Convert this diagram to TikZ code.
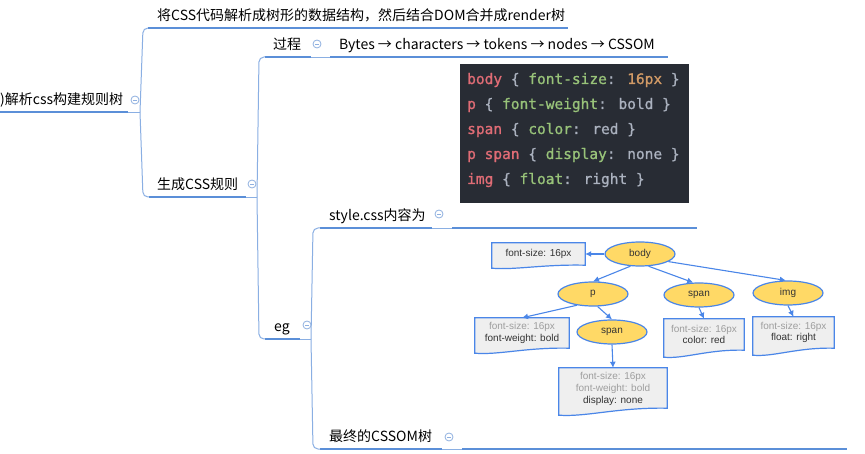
\documentclass[tikz,border=0pt]{standalone}
\usepackage{fontspec}
\setmainfont{Noto Sans CJK SC}
\newfontfamily\codefont[FakeBold=1]{DejaVu Sans Mono}
\newfontfamily\treefont{Liberation Sans}
\usetikzlibrary{shapes.geometric,arrows.meta,calc}
\definecolor{ul}{HTML}{5B8FD8}
\definecolor{thinc}{HTML}{8AAFE3}
\definecolor{iconc}{HTML}{8FB0E0}
\definecolor{codebg}{HTML}{282C34}
\definecolor{csel}{HTML}{E06C75}
\definecolor{cpun}{HTML}{ABB2BF}
\definecolor{cprop}{HTML}{98C379}
\definecolor{cnum}{HTML}{D19A66}
\definecolor{tblue}{HTML}{4A86E8}
\definecolor{tyel}{HTML}{FFD966}
\definecolor{tbox}{HTML}{EFEFEF}
\definecolor{cg}{HTML}{9E9E9E}
\definecolor{cd}{HTML}{333333}
\newcommand\docbox[2]{%
  \path[draw=tblue,line width=1.2pt,fill=tbox]
    (#1.north west) -- (#1.north east) -- (#1.south east)
    .. controls ($(#1.south east)!0.45!(#1.south west)+(0,-1)$)
           and ($(#1.south east)!0.75!(#1.south west)+(0,#2+2)$) ..
    ($(#1.south west)+(0,#2)$) -- cycle;}
\begin{document}
\begin{tikzpicture}[x=1pt,y=-1pt,
  topic/.style={anchor=base west,inner sep=0pt,font=\fontsize{14}{16}\selectfont,text=black},
  ulthick/.style={draw=ul,line width=2.6pt},
  ulthin/.style={draw=thinc,line width=0.9pt},
  conn/.style={draw=thinc,line width=1pt,rounded corners=5pt},
  icon/.style={circle,draw=iconc,line width=0.8pt,fill=white,minimum size=8pt,inner sep=0pt,
    path picture={\draw[iconc,line width=0.8pt] ([xshift=2pt]path picture bounding box.west) -- ([xshift=-2pt]path picture bounding box.east);}},
  codeline/.style={anchor=base west,inner sep=0pt,font=\codefont\fontsize{14.5}{17}\selectfont},
  tel/.style={ellipse,draw=tblue,line width=1.2pt,fill=tyel,minimum width=70pt,minimum height=24pt,inner sep=0pt,font=\treefont\fontsize{10}{12}\selectfont,text=cd},
  boxn/.style={rectangle,inner sep=0pt,align=center,font=\treefont\fontsize{10}{11.8}\selectfont},
  arr/.style={draw=tblue,line width=1.1pt,-{Latex[length=6pt,width=6pt]}}
]
\useasboundingbox[fill=white] (0,0) rectangle (865,454);

% ---------- mind map topics ----------
\node[topic] (root) at (0,105) {)解析css构建规则树};
\node[topic] (t1) at (157,20.5) {将CSS代码解析成树形的数据结构，然后结合DOM合并成render树};
\node[topic] (gen) at (157,189.5) {生成CSS规则};
\node[topic] (proc) at (273,49.5) {过程};
\node[topic] (bytes) at (339,49.5) {Bytes → characters → tokens → nodes → CSSOM};
\node[topic] (eg) at (274,331.5) {eg};
\node[topic] (style) at (329,220.5) {style.css内容为};
\node[topic] (final) at (329,441.5) {最终的CSSOM树};

% ---------- coordinates ----------
\coordinate (rootS) at (0,112);   \coordinate (rootM) at (128,112); \coordinate (rootE) at (140,112);
\coordinate (t1S) at (148,28);    \coordinate (t1E) at (568,28);
\coordinate (genS) at (149,197);  \coordinate (genM) at (246,197);  \coordinate (genE) at (257,197);
\coordinate (procS) at (265,57);  \coordinate (procM) at (311,57);  \coordinate (procE) at (330,57);
\coordinate (bytesE) at (668,57);
\coordinate (egS) at (265,339);   \coordinate (egM) at (300,339);   \coordinate (egE) at (311,339);
\coordinate (styleS) at (320,228); \coordinate (styleM) at (432,228); \coordinate (styleE) at (452,228);
\coordinate (codeE) at (697,228);
\coordinate (finalS) at (320,449); \coordinate (finalM) at (442,449); \coordinate (finalE) at (462,449);
\coordinate (treeE) at (847,449);

% ---------- underlines ----------
\draw[ulthick] (rootS) -- (rootM);   \draw[ulthin] (rootM) -- (rootE);
\draw[ulthick] (t1S) -- (t1E);
\draw[ulthick] (genS) -- (genM);     \draw[ulthin] (genM) -- (genE);
\draw[ulthick] (procS) -- (procM);   \draw[ulthin] (procM) -- (procE);
\draw[ulthick] (procE) -- (bytesE);
\draw[ulthick] (egS) -- (egM);       \draw[ulthin] (egM) -- (egE);
\draw[ulthick] (styleS) -- (styleM); \draw[ulthin] (styleM) -- (styleE);
\draw[ulthick] (styleE) -- (codeE);
\draw[ulthick] (finalS) -- (finalM); \draw[ulthin] (finalM) -- (finalE);
\draw[ulthick] (finalE) -- (treeE);

% ---------- connectors ----------
\draw[conn] (rootE) -- ($(rootE|-t1S)+(3,0)$) -- (t1S);
\draw[conn] (rootE) -- ($(rootE|-genS)+(3,0)$) -- (genS);
\draw[conn] (genE) -- ($(genE|-procS)+(2,0)$) -- (procS);
\draw[conn] (genE) -- ($(genE|-egS)+(2,0)$) -- (egS);
\draw[conn] (egE) -- ($(egE|-styleS)+(2,0)$) -- (styleS);
\draw[conn] (egE) -- ($(egE|-finalS)+(2,0)$) -- (finalS);

% ---------- collapse icons ----------
\node[icon] (i1) at (135,100) {};
\node[icon] (i2) at (252,184) {};
\node[icon] (i3) at (317,44) {};
\node[icon] (i4) at (307,325) {};
\node[icon] (i5) at (439,214) {};
\node[icon] (i6) at (449,437) {};

% ---------- code block ----------
\node[rectangle,fill=codebg,inner sep=0pt,minimum width=229pt,minimum height=139pt,anchor=north west] (code) at (460,64) {};
\node[codeline] (c1) at (467,84) {\textcolor{csel}{body} \textcolor{cpun}{\{} \textcolor{cprop}{font-size}\textcolor{cpun}{:} \textcolor{cnum}{16px} \textcolor{cpun}{\}}};
\node[codeline] (c2) at (467,109) {\textcolor{csel}{p} \textcolor{cpun}{\{} \textcolor{cprop}{font-weight}\textcolor{cpun}{: bold \}}};
\node[codeline] (c3) at (467,134) {\textcolor{csel}{span} \textcolor{cpun}{\{} \textcolor{cprop}{color}\textcolor{cpun}{: red \}}};
\node[codeline] (c4) at (467,159) {\textcolor{csel}{p span} \textcolor{cpun}{\{} \textcolor{cprop}{display}\textcolor{cpun}{: none \}}};
\node[codeline] (c5) at (467,184) {\textcolor{csel}{img} \textcolor{cpun}{\{} \textcolor{cprop}{float}\textcolor{cpun}{: right \}}};

% ---------- CSSOM tree ----------
\node[tel] (body) at (640,254) {body};
\node[tel] (p) at (593,294) {p};
\node[tel] (bspan) at (699,295) {span};
\node[tel] (img) at (788,293) {img};
\node[tel] (pspan) at (612,332) {span};

\node[boxn,minimum width=93pt,minimum height=22pt] (fsb) at (538.5,254) {};
\node[boxn,minimum width=94pt,minimum height=30pt] (pbox) at (522,333) {};
\node[boxn,minimum width=108pt,minimum height=40pt] (psbox) at (613,388) {};
\node[boxn,minimum width=80pt,minimum height=31pt] (bsbox) at (704,334.5) {};
\node[boxn,minimum width=81pt,minimum height=31pt] (imbox) at (793.5,332.5) {};
\docbox{fsb}{3}
\docbox{pbox}{5}
\docbox{psbox}{7}
\docbox{bsbox}{7}
\docbox{imbox}{7}
\node[boxn] (fsbt) at (fsb.center) {\textcolor{cd}{font-size: 16px}};
\node[boxn] (pboxt) at (pbox.center) {\textcolor{cg}{font-size: 16px}\\\textcolor{cd}{font-weight: bold}};
\node[boxn] (psboxt) at ($(psbox.center)+(0,1)$) {\textcolor{cg}{font-size: 16px}\\\textcolor{cg}{font-weight: bold}\\\textcolor{cd}{display: none}};
\node[boxn] (bsboxt) at (bsbox.center) {\textcolor{cg}{font-size: 16px}\\\textcolor{cd}{color: red}};
\node[boxn] (imboxt) at (imbox.center) {\textcolor{cg}{font-size: 16px}\\\textcolor{cd}{float: right}};

\draw[arr] (body.west) -- (fsb.east);
\draw[arr] (body.232) -- (p.north);
\draw[arr] (body.-55) -- (bspan.115);
\draw[arr] (body.-15) -- (img.100);
\draw[arr] (p.215) -- (pbox.north);
\draw[arr] (p.-70) -- (pspan.north);
\draw[arr] (pspan.south) -- (psbox.north);
\draw[arr] (bspan.south) -- (bsbox.north);
\draw[arr] (img.south) -- (imbox.north);
\end{tikzpicture}
\end{document}
